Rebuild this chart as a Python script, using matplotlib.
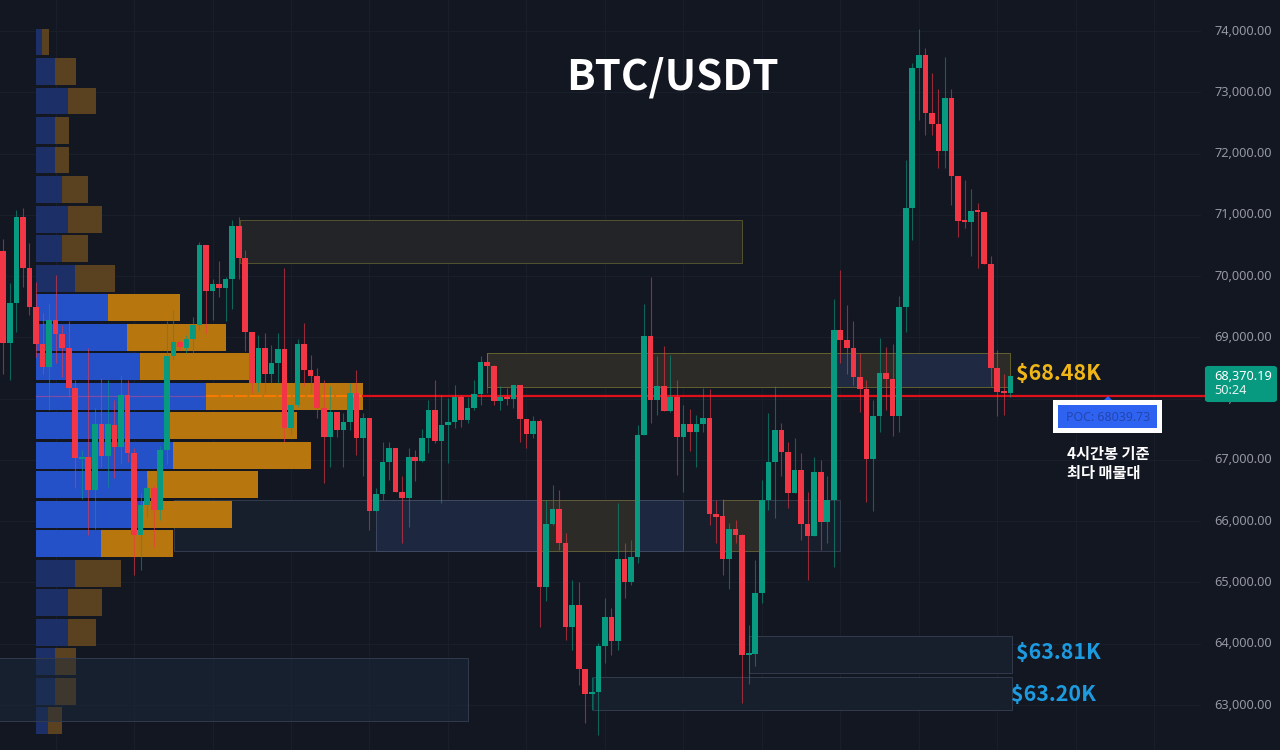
import matplotlib
matplotlib.use("Agg")
import matplotlib.pyplot as plt
from matplotlib.patches import Rectangle, FancyBboxPatch, Polygon

opens = [70415,68910,69560,70960,70130,69500,68900,68520,69280,69050,
68830,68170,67010,67040,66510,67590,67060,67570,67210,68060,
67120,65780,66260,66540,66190,67160,68690,68920,68830,68970,
69200,70510,69760,69870,69810,69950,70820,70290,69080,68260,
68820,68400,68580,68810,67520,67900,68890,68460,68370,67840,
67370,67790,67490,67620,68100,67350,67680,66170,66440,66970,
67200,66480,66380,67040,66990,67360,67820,67310,67570,67620,
68030,67650,67840,68080,68600,68530,67960,68030,67990,68220,
67670,67420,67640,64920,65950,66200,65640,64280,64640,63590,
63180,63210,63960,64430,64050,65380,65010,65410,67400,69030,
67980,68210,67800,68030,67370,67590,67460,67590,67680,66110,
66080,65380,65870,65780,63820,63840,64830,66350,66960,67490,
67130,66460,66830,65950,65760,66810,65990,66350,69120,68960,
68820,68360,68160,67020,67710,68420,68320,67720,69490,71110,
73390,73610,72660,72490,72040,72910,71640,70910,70880,71080,
71050,70190,68500,68120,68100]
highs = [70600,69880,71080,71110,70540,69910,69390,69560,70020,69200,
69270,68300,67160,68820,67840,68330,68300,67980,68390,68300,
67190,66460,66700,66590,67220,69260,69450,68960,69040,69340,
70560,70510,69960,70250,69990,70920,70970,70430,69080,69040,
69070,68880,69070,70130,67920,68980,69240,68710,68500,68300,
68200,67790,67760,68250,68470,67760,67680,66540,67300,67300,
67200,66740,67190,67160,67500,67980,68310,68060,68010,68220,
68060,68030,68310,68690,68740,68550,68200,68170,68225,68220,
67670,67720,67670,66350,66590,66510,65800,65040,65010,63590,
63460,64010,64740,64580,66290,65640,65690,67570,69550,69990,
68700,68860,68710,68310,67900,67830,67730,68170,68150,66350,
66360,65970,66020,65790,64310,65370,66670,67760,68200,67600,
67300,67350,67110,66480,67050,67000,66730,69620,70100,69530,
69260,68740,68310,67980,68990,68850,68900,69670,71900,73470,
74040,73720,73310,73060,73570,73060,71640,71570,71420,71190,
71050,70330,68790,68410,68370]
lows = [68410,68300,69090,69830,69360,68680,68410,67810,68580,68360,
68030,66540,66370,65780,65880,66890,66560,66700,66940,66970,
65120,65200,66070,65580,66020,66940,68630,68790,68740,68740,
69120,69070,69280,69660,69260,69470,69960,68770,68090,68110,
68090,68250,68250,67300,67430,67870,68200,68090,67680,66620,
66890,67380,66890,67490,67080,66730,65860,66170,66350,66670,
66480,65640,65900,66650,66970,67110,67270,66290,66950,67520,
67540,67600,67810,67900,68090,67900,67810,67900,67840,67300,
67190,67350,64280,64690,65940,65530,64060,63900,63330,62700,
62920,62510,63680,63820,63900,64740,64960,65310,67400,67600,
67730,67800,67790,66750,66480,67140,66890,67460,65940,65640,
65120,64900,65640,63030,63350,63630,64660,66180,66050,66730,
66210,66460,65690,65040,65760,65530,65640,65260,68580,68410,
68220,67790,66320,66160,67460,67820,67390,67460,69090,70590,
72550,72300,72300,71760,71760,71160,70640,70780,70330,70130,
70190,68200,67720,67730,68030]
closes = [68910,69560,70960,70130,69500,68900,68520,69280,69050,68830,
68170,67030,67050,66510,67590,67060,67590,67210,68060,67120,
65780,66260,66540,66190,67160,68690,68920,68840,68970,69200,
70510,69760,69870,69810,69950,70820,70290,69080,68260,68820,
68400,68580,68810,67520,67900,68890,68460,68370,67840,67370,
67790,67490,67620,68100,67350,67680,66170,66440,66970,67200,
66480,66380,67040,66990,67360,67820,67310,67570,67620,68020,
67650,67840,68080,68600,68530,67960,68030,67990,68220,67670,
67420,67640,64920,65950,66200,65640,64280,64640,63590,63180,
63220,63960,64430,64050,65380,65010,65410,67400,69030,67980,
68210,67800,68030,67370,67590,67460,67590,67680,66110,66070,
65380,65870,65780,63820,63840,64830,66350,66960,67490,67130,
66460,66830,65950,65760,66810,65990,66350,69120,68960,68820,
68360,68160,67020,67710,68420,68320,67720,69490,71110,73390,
73610,72660,72480,72040,72910,71640,70900,70880,71070,71050,
70190,68500,68110,68100,68370.19]

profile_prices = [73818,73337,72855,72374,71892,71411,70929,70448,69966,69485,69003,68522,
                  68040,67559,67077,66596,66114,65633,65151,64670,64188,63707,63225,62744]
buy_volume = [6,19,32,19,19,26,32,26,39,72,91,104,170,132,137,111,107,65,39,32,32,19,19,12]
sell_volume = [7,21,28,14,14,26,34,26,40,72,99,110,157,129,138,111,89,72,46,34,28,21,21,14]

price_ticks = [74000,73000,72000,71000,70000,69000,68000,67000,66000,65000,64000,63000]
poc_price = 68039.73
last_price = 68370.19

BG = "#131722"
GRID = "#191e2b"
UP = "#089981"
DOWN = "#f23645"

fig = plt.figure(figsize=(12.8, 7.5), dpi=100, facecolor=BG)
ax = fig.add_axes([0, 0, 1, 1], facecolor=BG)
ax.set_xlim(-0.505, 195.24)
ax.set_ylim(62266, 74506)
ax.axis("off")

fx = lambda p: p / 1280
fy = lambda p: 1 - p / 750
tf = fig.transFigure
SANS = "Noto Sans"
KR = "Noto Sans CJK KR"

# grid
for p in price_ticks:
    ax.plot([-0.505, 183], [p, p], color=GRID, lw=0.8, zorder=1)
for g in range(8, 180, 12):
    ax.plot([g, g], [62266, 74506], color=GRID, lw=0.8, zorder=1)

def zone(x0, x1, y0, y1, fill, edge=None, alpha=1.0, z=2):
    ax.add_patch(Rectangle((x0, y0), x1 - x0, y1 - y0, facecolor=fill, alpha=alpha,
                           edgecolor="none", zorder=z))
    if edge:
        ax.add_patch(Rectangle((x0, y0), x1 - x0, y1 - y0, facecolor="none",
                               edgecolor=edge, lw=0.7, zorder=z + 0.1))

YEL_EDGE = "#55532f"
BLUE_EDGE = "#323b4d"
zone(36.2, 113.0, 70220, 70910, "#222427", YEL_EDGE)
zone(73.9, 154.0, 68190, 68745, "#2c2b27", "#63612f")
zone(127.2, 130.6, 68190, 68745, "#202a40")
zone(136.9, 151.0, 68190, 68745, "#1f2a42")
zone(26.1, 128.0, 65514, 66346, "#181f2c", BLUE_EDGE)
zone(57.0, 104.0, 65514, 66346, "#1d2840", "#3f495f")
zone(82.3, 96.7, 65514, 66346, "#2c2b27", "#5e5c36")
zone(110.1, 115.8, 65514, 66346, "#2c2b27", "#5e5c36")
zone(114.1, 154.2, 63523, 64126, "#181f2c", BLUE_EDGE)
zone(90.2, 154.2, 62919, 63457, "#181f2c", BLUE_EDGE)

# volume profile
start = 5.0
unit = 1 / 6.539
for k, (p, b, s) in enumerate(zip(profile_prices, buy_volume, sell_volume)):
    bright = 9 <= k <= 17
    cb = "#2450c8" if bright else "#1c2f66"
    cs = "#b8760f" if bright else "#5a4220"
    ax.barh(p, b * unit, left=start, height=435, color=cb, zorder=3)
    ax.barh(p, s * unit, left=start + b * unit, height=435, color=cs, zorder=3)

# lower-left zone over profile
zone(-3, 71.0, 62739, 63767, "#1d2b3d", None, alpha=0.45, z=3.5)
ax.add_patch(Rectangle((-3, 62739), 74, 1028, facecolor="none", edgecolor=BLUE_EDGE,
                       lw=0.7, zorder=3.6))

# POC line
poc_end_buy = start + buy_volume[12] * unit
poc_end_sell = poc_end_buy + sell_volume[12] * unit
ax.plot([start, poc_end_buy], [poc_price, poc_price], color="#7a4fa8", lw=0.9, zorder=4)
ax.plot([poc_end_buy, poc_end_sell], [poc_price, poc_price], color="#ff7a00", lw=1.3,
        ls=(0, (7, 1)), zorder=4)
ax.plot([poc_end_sell, 183.9], [poc_price, poc_price], color="#e0101a", lw=1.6, zorder=4)

# candles
for i, (o, h, l, c) in enumerate(zip(opens, highs, lows, closes)):
    col = UP if c >= o else DOWN
    ax.plot([i, i], [l, h], color=col, lw=0.8, alpha=0.6, zorder=5, solid_capstyle="butt")
    top, bot = max(o, c), min(o, c)
    ax.bar(i, max(top - bot, 30), bottom=bot, width=0.86, color=col, zorder=6)

# price axis labels
for p in price_ticks:
    ax.annotate(f"{p:,.2f}", xy=(1, p), xycoords=("axes fraction", "data"),
                xytext=(-8 * 0.72, 0), textcoords="offset points", ha="right", va="center",
                fontsize=9.2, color="#9598a1", family=SANS, zorder=7)

# last price tag
fig.add_artist(FancyBboxPatch((fx(1206), fy(401)), fx(70), 34 / 750,
                              boxstyle="round,pad=0,rounding_size=0.002", transform=tf,
                              facecolor=UP, edgecolor=UP, lw=1.5, zorder=8))
fig.text(fx(1214), fy(376), f"{last_price:,.2f}", color="white", fontsize=9.2, family=SANS,
         va="center", ha="left", zorder=9)
fig.text(fx(1214), fy(391), "50:24", color="#e3f3ef", fontsize=9.2, family=SANS,
         va="center", ha="left", zorder=9)

# title and labels
fig.text(fx(672), fy(77), "BTC/USDT", color="white", fontsize=30.3, fontweight="bold",
         family=KR, ha="center", va="center", zorder=9)
fig.text(fx(1016), fy(374), "$68.48K", color="#f0b618", fontsize=15.4, fontweight="bold",
         family=KR, ha="left", va="center", zorder=9)
fig.text(fx(1016), fy(653), "$63.81K", color="#1d9be0", fontsize=15.4, fontweight="bold",
         family=KR, ha="left", va="center", zorder=9)
fig.text(fx(1011), fy(695), "$63.20K", color="#1d9be0", fontsize=15.4, fontweight="bold",
         family=KR, ha="left", va="center", zorder=9)

# POC box
fig.add_artist(Polygon([[fx(1104), fy(400)], [fx(1112), fy(400)], [fx(1108), fy(396)]],
                       closed=True, transform=tf, facecolor="#2e62f0", edgecolor="none", zorder=8))
fig.add_artist(Rectangle((fx(1053), fy(433.5)), 109 / 1280, 33.5 / 750, transform=tf,
                         facecolor="white", edgecolor="none", zorder=8))
fig.add_artist(Rectangle((fx(1058), fy(428)), 99 / 1280, 23 / 750, transform=tf,
                         facecolor="#2e62f0", edgecolor="none", zorder=8.5))
fig.text(fx(1108), fy(417), f"POC: {poc_price:.2f}", color="#2446b0", fontsize=8.9, family=SANS,
         ha="center", va="center", zorder=9)
fig.text(fx(1067), fy(454), "4시간봉 기준", color="white", fontsize=11, family=KR,
         ha="left", va="center", fontweight="bold", zorder=9)
fig.text(fx(1067), fy(473), "최다 매물대", color="white", fontsize=11, family=KR,
         ha="left", va="center", fontweight="bold", zorder=9)

fig.savefig("out.png", dpi=100, facecolor=BG)
